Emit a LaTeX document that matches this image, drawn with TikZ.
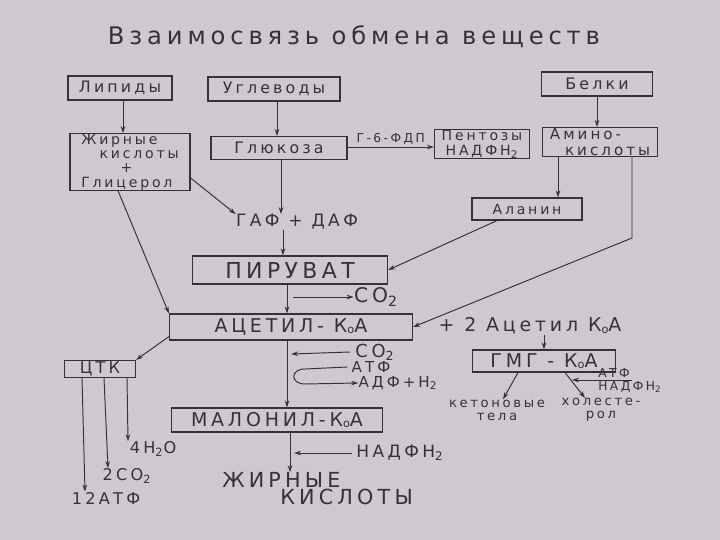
\documentclass[tikz,border=0pt]{standalone}
\usepackage{fontspec}
\usetikzlibrary{arrows.meta,positioning}
\newfontfamily\hand[LetterSpace=20]{DejaVu Sans}
\definecolor{paper}{RGB}{206,201,207}
\definecolor{ink}{RGB}{52,50,56}
\newcommand{\koa}{К\raisebox{-.15ex}{\scalebox{.6}{о}}А}
\newcommand{\fs}[1]{\hand\fontsize{#1}{#1}\selectfont}

\tikzset{
  box/.style={draw=ink, line width=0.65pt, inner sep=0pt, text=ink, font=\fs{9}},
  lbl/.style={text=ink, inner sep=0pt, font=\fs{9}},
  arr/.style={draw=ink, line width=0.55pt, -{Stealth[length=4pt,width=2.6pt]}},
  ln/.style={draw=ink, line width=0.55pt}
}

\begin{document}
\begin{tikzpicture}[x=0.02cm, y=-0.02cm]
  \fill[paper] (0,0) rectangle (720,540);

  \node[lbl, font=\fs{13.8}] (title) at (354,37) {Взаимосвязь обмена веществ};

  % top row
  \node[box, minimum width=2.08cm, minimum height=0.48cm] (lip) at (120,88) {Липиды};
  \node[box, minimum width=2.64cm, minimum height=0.48cm] (ugl) at (274,89) {Углеводы};
  \node[box, minimum width=2.22cm, minimum height=0.48cm] (bel) at (597,84) {Белки};

  % second row
  \node[box, minimum width=2.4cm, minimum height=1.02cm, align=left, font=\hand\fontsize{8}{8.2}\selectfont]
    (zhk) at (130,162) {Жирные\\\hspace*{1.3em}кислоты\\\hspace*{2.8em}+\\Глицерол};
  \node[box, minimum width=2.72cm, minimum height=0.46cm] (glu) at (279,148) {Глюкоза};
  \node[box, minimum width=1.9cm, minimum height=0.56cm, align=center, font=\hand\fontsize{8}{8.5}\selectfont]
    (pent) at (482,144) {Пентозы\\НАДФН\textsubscript{2}};
  \node[box, minimum width=2.3cm, minimum height=0.58cm, align=left, font=\hand\fontsize{8.6}{9.4}\selectfont]
    (amino) at (600,142) {Амино-\\\hspace*{1em}кислоты};
  \node[box, minimum width=2.2cm, minimum height=0.44cm, font=\fs{8}] (alan) at (527,209) {Аланин};

  \node[lbl, font=\fs{9.7}] (gaf) at (297,222) {ГАФ + ДАФ};

  % main chain
  \node[box, minimum width=3.9cm, minimum height=0.56cm, font=\fs{12.5}] (pir) at (290,270) {ПИРУВАТ};
  \node[lbl, font=\fs{11.5}] (co2a) at (376,297) {СО\textsubscript{2}};
  \node[box, minimum width=4.86cm, minimum height=0.52cm, font=\fs{10.8}] (acet) at (291,327) {АЦЕТИЛ- \koa};
  \node[lbl, font=\fs{10.8}] (plus2) at (530,326) {+ 2 Ацетил \koa};
  \node[box, minimum width=2.86cm, minimum height=0.44cm, font=\fs{10.8}] (gmg) at (544,361) {ГМГ - \koa};

  \node[lbl, font=\fs{10.2}] (co2b) at (375,352) {СО\textsubscript{2}};
  \node[lbl, font=\fs{8.6}] (atf) at (371,367) {АТФ};
  \node[lbl, font=\fs{8.6}] (adf) at (398,383) {АДФ+Н\textsubscript{2}};

  \node[box, minimum width=4.22cm, minimum height=0.48cm, font=\fs{10.8}] (malon) at (277,420) {МАЛОНИЛ-\koa};
  \node[lbl, font=\fs{9.7}] (nadph) at (400,453) {НАДФН\textsubscript{2}};
  \node[lbl, font=\fs{11.8}, anchor=west] (fat1) at (222,480) {ЖИРНЫЕ};
  \node[lbl, font=\fs{11.8}, anchor=west] (fat2) at (280,497) {КИСЛОТЫ};

  % GMG outputs
  \node[lbl, font=\fs{7.5}, align=center] (keton) at (497,410) {кетоновые\\тела};
  \node[lbl, font=\fs{7.5}, align=center] (chol) at (601,410) {холесте-\\рол};
  \node[lbl, font=\fs{7}] (atf2) at (614,373) {АТФ};
  \node[lbl, font=\fs{7}] (nadph2) at (630,387) {НАДФН\textsubscript{2}};

  % TCA
  \node[box, minimum width=1.42cm, minimum height=0.34cm, font=\fs{9.2}] (ctk) at (100,369) {ЦТК};
  \node[lbl, font=\fs{9.2}] (h2o) at (153,449) {4Н\textsubscript{2}О};
  \node[lbl, font=\fs{9.2}] (co2c) at (127,476) {2СО\textsubscript{2}};
  \node[lbl, font=\fs{9.2}] (atf3) at (106,498) {12АТФ};

  % connectors
  \draw[arr] (lip.south -| 123,0) -- (zhk.north -| 123,0);
  \draw[arr] (ugl.south -| 277,0) -- (glu.north -| 277,0);
  \draw[arr] (bel.south) -- (amino.north -| bel.south);
  \draw[arr] (glu.south -| 281,0) -- (gaf.north -| 281,0);
  \draw[arr] (zhk.east |- 0,178) -- (gaf.north west);
  \draw[arr] (zhk.south -| 118,0) -- (acet.north west);
  \draw[arr] (gaf.south -| 283,0) -- (pir.north -| 283,0);
  \draw[arr] (glu.east |- 0,147) -- (pent.west |- 0,147)
    node[midway, above=1pt, lbl, font=\fs{7}] {Г-6-ФДП};
  \draw[arr] (amino.south -| 558,0) -- (alan.north -| 558,0);
  \draw[arr] (alan.south -| 497,0) -- (pir.east);
  \coordinate (bend) at (632,238);
  \draw[arr] (amino.south -| bend) -- (bend) -- (acet.east);
  \draw[arr] (pir.south -| 287,0) -- (acet.north -| 287,0);
  \coordinate (co2start) at (293,297);
  \draw[arr] (co2start) -- (co2a.west);
  \draw[arr] (acet.south west) ++(0,-4) -- (ctk.north east);
  \draw[arr] (plus2.south -| gmg.north) -- (gmg.north);
  \draw[arr] (gmg.south -| 518,0) -- (keton.north -| 503,0);
  \draw[arr] (gmg.south -| 565,0) -- (chol.north -| 585,0);
  \coordinate (hook) at (572,380);
  \draw[arr] (632,380) -- (hook);
  \draw[arr] (acet.south -| 287,0) -- (malon.north -| 287,0);
  \coordinate (co2in) at (291,354);
  \draw[arr] (co2b.west) ++(-5,0) -- (co2in);
  \coordinate (ctop) at (305,369);
  \coordinate (cbot) at (305,384);
  \draw[arr] (atf.west) ++(-4,0) -- (ctop) .. controls (290,369) and (290,384) .. (cbot) -- (adf.west);
  \draw[arr] (malon.south -| 290,0) -- (fat1.north -| 290,0);
  \coordinate (nadin) at (294,453);
  \draw[arr] (nadph.west) ++(-4,0) -- (nadin);
  \draw[arr] (ctk.south -| 127,0) -- (h2o.north -| 128,0);
  \draw[arr] (ctk.south -| 104,0) -- (co2c.north -| 108,0);
  \draw[arr] (ctk.south -| 82,0) -- (atf3.north -| 85,0);
\end{tikzpicture}
\end{document}
